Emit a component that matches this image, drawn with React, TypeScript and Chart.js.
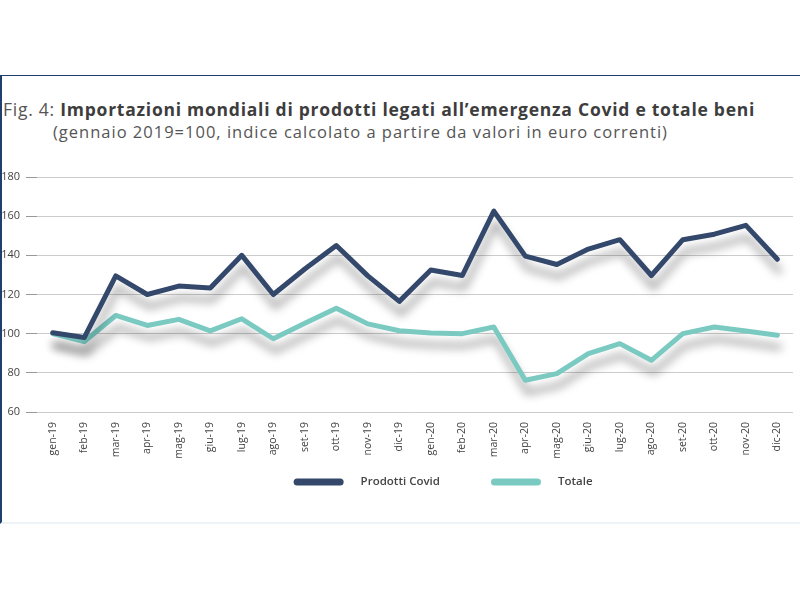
import React, { useEffect, useRef } from 'react';
import { Chart, registerables } from 'chart.js';

Chart.register(...registerables);

const categories = [
  'gen-19', 'feb-19', 'mar-19', 'apr-19', 'mag-19', 'giu-19', 'lug-19', 'ago-19',
  'set-19', 'ott-19', 'nov-19', 'dic-19', 'gen-20', 'feb-20', 'mar-20', 'apr-20',
  'mag-20', 'giu-20', 'lug-20', 'ago-20', 'set-20', 'ott-20', 'nov-20', 'dic-20',
];
const prodottiCovid = [
  100.5, 98, 129.5, 120, 124.3, 123.3, 140, 120, 133, 145, 129.5, 116.5,
  132.5, 129.7, 162.6, 139.6, 135.3, 143.2, 148, 129.7, 148, 150.8, 155.3, 138,
];
const totale = [
  100, 96, 109.3, 104.2, 107.3, 101.4, 107.6, 97.4, 105.3, 113, 105, 101.5,
  100.3, 100, 103.4, 76.2, 79.6, 89.8, 94.9, 86.4, 100, 103.4, 101.4, 99.2,
];
const seriesNames = ['Prodotti Covid', 'Totale'];
const seriesColors = ['#33486b', '#7acac2'];
const yMin = 60;
const yMax = 180;
const yStep = 20;

const shadowPlugin = {
  id: 'lineShadow',
  beforeDatasetDraw(chart: any) {
    const ctx = chart.ctx;
    ctx.save();
    ctx.shadowColor = 'rgba(0,0,0,0.38)';
    ctx.shadowBlur = 10;
    ctx.shadowOffsetX = 2;
    ctx.shadowOffsetY = 12;
  },
  afterDatasetDraw(chart: any) {
    chart.ctx.restore();
  },
};

const legendPlugin = {
  id: 'customLegend',
  afterDraw(chart: any) {
    const ctx = chart.ctx;
    const ds = chart.data.datasets;
    const swW = 50;
    const swH = 7;
    const gapText = 17;
    const gapItem = 51;
    ctx.save();
    ctx.font = '600 11.5px "Open Sans", sans-serif';
    const widths = ds.map((d: any) => ctx.measureText(d.label).width);
    let total = 0;
    widths.forEach((w: number, i: number) => {
      total += swW + gapText + w + (i < widths.length - 1 ? gapItem : 0);
    });
    const ca = chart.chartArea;
    const cx = (ca.left + ca.right) / 2 + 28;
    let x = cx - total / 2;
    const y = ca.bottom + 70;
    ds.forEach((d: any, i: number) => {
      ctx.fillStyle = d.borderColor;
      ctx.beginPath();
      ctx.roundRect(x, y - swH / 2, swW, swH, swH / 2);
      ctx.fill();
      x += swW + gapText;
      ctx.fillStyle = '#444';
      ctx.textBaseline = 'middle';
      ctx.textAlign = 'left';
      ctx.fillText(d.label, x, y);
      x += widths[i] + gapItem;
    });
    ctx.restore();
  },
};

function LineChart() {
  const ref = useRef<HTMLCanvasElement | null>(null);
  useEffect(() => {
    if (!ref.current) return;
    const chart = new Chart(ref.current, {
      type: 'line',
      data: {
        labels: categories,
        datasets: [
          {
            label: seriesNames[0],
            data: prodottiCovid,
            borderColor: seriesColors[0],
            backgroundColor: seriesColors[0],
            borderWidth: 5,
            pointRadius: 0,
            tension: 0,
            borderJoinStyle: 'round',
            borderCapStyle: 'round',
          },
          {
            label: seriesNames[1],
            data: totale,
            borderColor: seriesColors[1],
            backgroundColor: seriesColors[1],
            borderWidth: 5,
            pointRadius: 0,
            tension: 0,
            borderJoinStyle: 'round',
            borderCapStyle: 'round',
          },
        ],
      },
      options: {
        responsive: false,
        animation: false,
        layout: { padding: { top: 27, bottom: 57, left: 0, right: 0 } },
        plugins: {
          legend: { display: false },
          tooltip: { enabled: false },
        },
        scales: {
          x: {
            offset: true,
            grid: { display: false, drawTicks: false },
            border: { display: false },
            afterFit: (s: any) => { s.height = 55; },
            ticks: {
              autoSkip: false,
              minRotation: 90,
              maxRotation: 90,
              padding: 10,
              color: '#444',
              font: { family: '"Liberation Sans Narrow", "Open Sans", sans-serif', size: 10.5 },
            },
          },
          y: {
            min: yMin,
            max: yMax,
            afterFit: (s: any) => { s.width = 35; },
            border: { display: false },
            grid: { color: '#cccccc', tickColor: '#999999', tickLength: 11, lineWidth: 1 },
            ticks: {
              stepSize: yStep,
              padding: 6,
              color: '#444',
              font: { family: '"Open Sans", sans-serif', size: 11 },
            },
          },
        },
      },
      plugins: [shadowPlugin, legendPlugin],
    });
    return () => chart.destroy();
  }, []);
  return <canvas ref={ref} width={798} height={374} style={{ display: 'block' }} />;
}

export default function App() {
  return (
    <div style={{ position: 'absolute', left: 0, top: 0, width: 800, height: 600, background: '#fff', overflow: 'hidden' }}>
      <div
        style={{
          position: 'absolute', left: 0, top: 75, width: 820, height: 449,
          borderTop: '1.5px solid #1f3f6e', borderLeft: '2px solid #1f3f6e',
          borderBottom: '2px solid #eef3f8', boxSizing: 'border-box', background: '#fff',
        }}
      />
      <div
        style={{
          position: 'absolute', left: 3, top: 98, whiteSpace: 'nowrap',
          fontFamily: '"Open Sans", sans-serif', fontSize: 17.5, letterSpacing: '0.75px',
          lineHeight: '22px', color: '#555',
        }}
      >
        Fig. 4: <span style={{ fontWeight: 700, color: '#3d3d3d' }}>Importazioni mondiali di prodotti legati all’emergenza Covid e totale beni</span>
      </div>
      <div
        style={{
          position: 'absolute', left: 53, top: 121, whiteSpace: 'nowrap',
          fontFamily: '"Open Sans", sans-serif', fontSize: 16.5, letterSpacing: '1px',
          lineHeight: '22px', color: '#555',
        }}
      >
        (gennaio 2019=100, indice calcolato a partire da valori in euro correnti)
      </div>
      <div style={{ position: 'absolute', left: 2, top: 150 }}>
        <LineChart />
      </div>
    </div>
  );
}
